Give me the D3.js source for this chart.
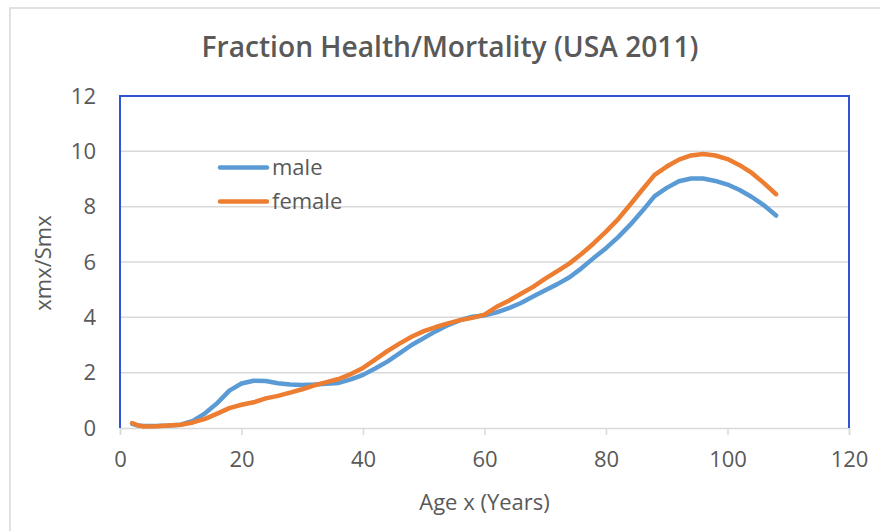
<!DOCTYPE html>
<html>
<head>
<meta charset="utf-8">
<script src="https://cdn.jsdelivr.net/npm/d3@7"></script>
<style>
  html, body { margin: 0; padding: 0; background: #fff; }
  svg { display: block; }
  text { font-family: "Open Sans", "Noto Sans", sans-serif; fill: #595959; }
</style>
</head>
<body>
<svg id="chart" width="880" height="531"></svg>
<script>
const ages = [2,3,4,6,8,10,12,14,16,18,20,22,24,26,28,30,32,34,36,38,40,42,44,46,48,50,52,54,56,58,60,62,64,66,68,70,72,74,76,78,80,82,84,86,88,90,92,94,96,98,100,102,104,106,108];
const male = [0.15,0.09,0.07,0.07,0.09,0.12,0.26,0.53,0.9,1.35,1.61,1.71,1.7,1.62,1.57,1.55,1.57,1.6,1.63,1.76,1.92,2.15,2.4,2.7,3.0,3.25,3.5,3.72,3.9,4.02,4.07,4.18,4.33,4.52,4.75,4.98,5.2,5.45,5.78,6.15,6.5,6.9,7.35,7.85,8.38,8.68,8.92,9.02,9.02,8.93,8.8,8.6,8.35,8.05,7.68];
const female = [0.18,0.09,0.05,0.06,0.09,0.12,0.2,0.33,0.52,0.72,0.84,0.93,1.07,1.16,1.28,1.4,1.54,1.66,1.77,1.95,2.17,2.47,2.78,3.05,3.3,3.5,3.65,3.78,3.9,3.98,4.1,4.38,4.6,4.85,5.1,5.4,5.67,5.95,6.3,6.68,7.1,7.55,8.08,8.62,9.15,9.45,9.7,9.85,9.9,9.85,9.72,9.5,9.22,8.85,8.45];
const seriesNames = ["male", "female"];
const seriesColors = ["#5B9BD5", "#ED7D31"];
const xTicks = [0,20,40,60,80,100,120];
const yTicks = [0,2,4,6,8,10,12];
const titleText = "Fraction Health/Mortality (USA 2011)";
const xTitle = "Age x (Years)";
const yTitle = "xmx/Smx";

const svg = d3.select("#chart");
const L = 120, R = 849, T = 96, B = 428;
const x = d3.scaleLinear().domain([0,120]).range([L,R]);
const y = d3.scaleLinear().domain([0,12]).range([B,T]);

// outer chart border
svg.append("rect").attr("x",10).attr("y",8).attr("width",900).attr("height",600)
  .attr("fill","none").attr("stroke","#D9D9D9").attr("stroke-width",1.5);

// gridlines
svg.append("g").selectAll("line").data(yTicks.filter(d=>d>0)).join("line")
  .attr("x1",L).attr("x2",R).attr("y1",d=>y(d)).attr("y2",d=>y(d))
  .attr("stroke","#D9D9D9").attr("stroke-width",1.5);

// x axis
const xAxis = svg.append("g").attr("transform",`translate(0,${B})`)
  .call(d3.axisBottom(x).tickValues(xTicks).tickSize(7).tickPadding(16).tickFormat(d3.format("d")));
xAxis.select(".domain").attr("stroke","#D9D9D9").attr("stroke-width",1.5);
xAxis.selectAll(".tick line").attr("stroke","#D9D9D9").attr("stroke-width",1.5);
xAxis.selectAll("text").style("font-size","22px").attr("fill","#595959")
  .style("font-family","'Open Sans', sans-serif");

// y axis labels
const yAxis = svg.append("g").attr("transform",`translate(${L},0)`)
  .call(d3.axisLeft(y).tickValues(yTicks).tickSize(0).tickPadding(24).tickFormat(d3.format("d")));
yAxis.select(".domain").remove();
yAxis.selectAll("text").style("font-size","22px").attr("fill","#595959")
  .style("font-family","'Open Sans', sans-serif");

// plot border (top, left, right) in blue
svg.append("path")
  .attr("d",`M${L},${B}V${T}H${R}V${B}`)
  .attr("fill","none").attr("stroke","#2F55D4").attr("stroke-width",2);

// lines
const line = d3.line().x((d,i)=>x(ages[i])).y(d=>y(d));
[male, female].forEach((vals, k) => {
  svg.append("path").datum(vals).attr("d", line)
    .attr("fill","none").attr("stroke",seriesColors[k]).attr("stroke-width",4.5)
    .attr("stroke-linecap","round").attr("stroke-linejoin","round");
});

// legend
const legendY = [167.5, 201.5];
seriesNames.forEach((n,k) => {
  svg.append("line").attr("x1",220).attr("x2",267).attr("y1",legendY[k]).attr("y2",legendY[k])
    .attr("stroke",seriesColors[k]).attr("stroke-width",4.5).attr("stroke-linecap","round");
  svg.append("text").attr("x",272).attr("y",legendY[k]).attr("dy","0.35em")
    .style("font-size","22px").text(n);
});

// title
const title = svg.append("text").attr("x",450).attr("y",47).attr("text-anchor","middle")
  .attr("dy","0.35em").style("font-size","24px").style("font-weight","600").text(titleText);
const tw = title.node().getComputedTextLength();
title.style("font-size", (24*497/tw).toFixed(2)+"px");

// axis titles
svg.append("text").attr("x",(L+R)/2).attr("y",502).attr("text-anchor","middle")
  .attr("dy","0.35em").style("font-size","22px").text(xTitle);
svg.append("text").attr("transform",`translate(43,263) rotate(-90)`).attr("text-anchor","middle")
  .attr("dy","0.35em").style("font-size","22px").text(yTitle);
</script>
</body>
</html>
